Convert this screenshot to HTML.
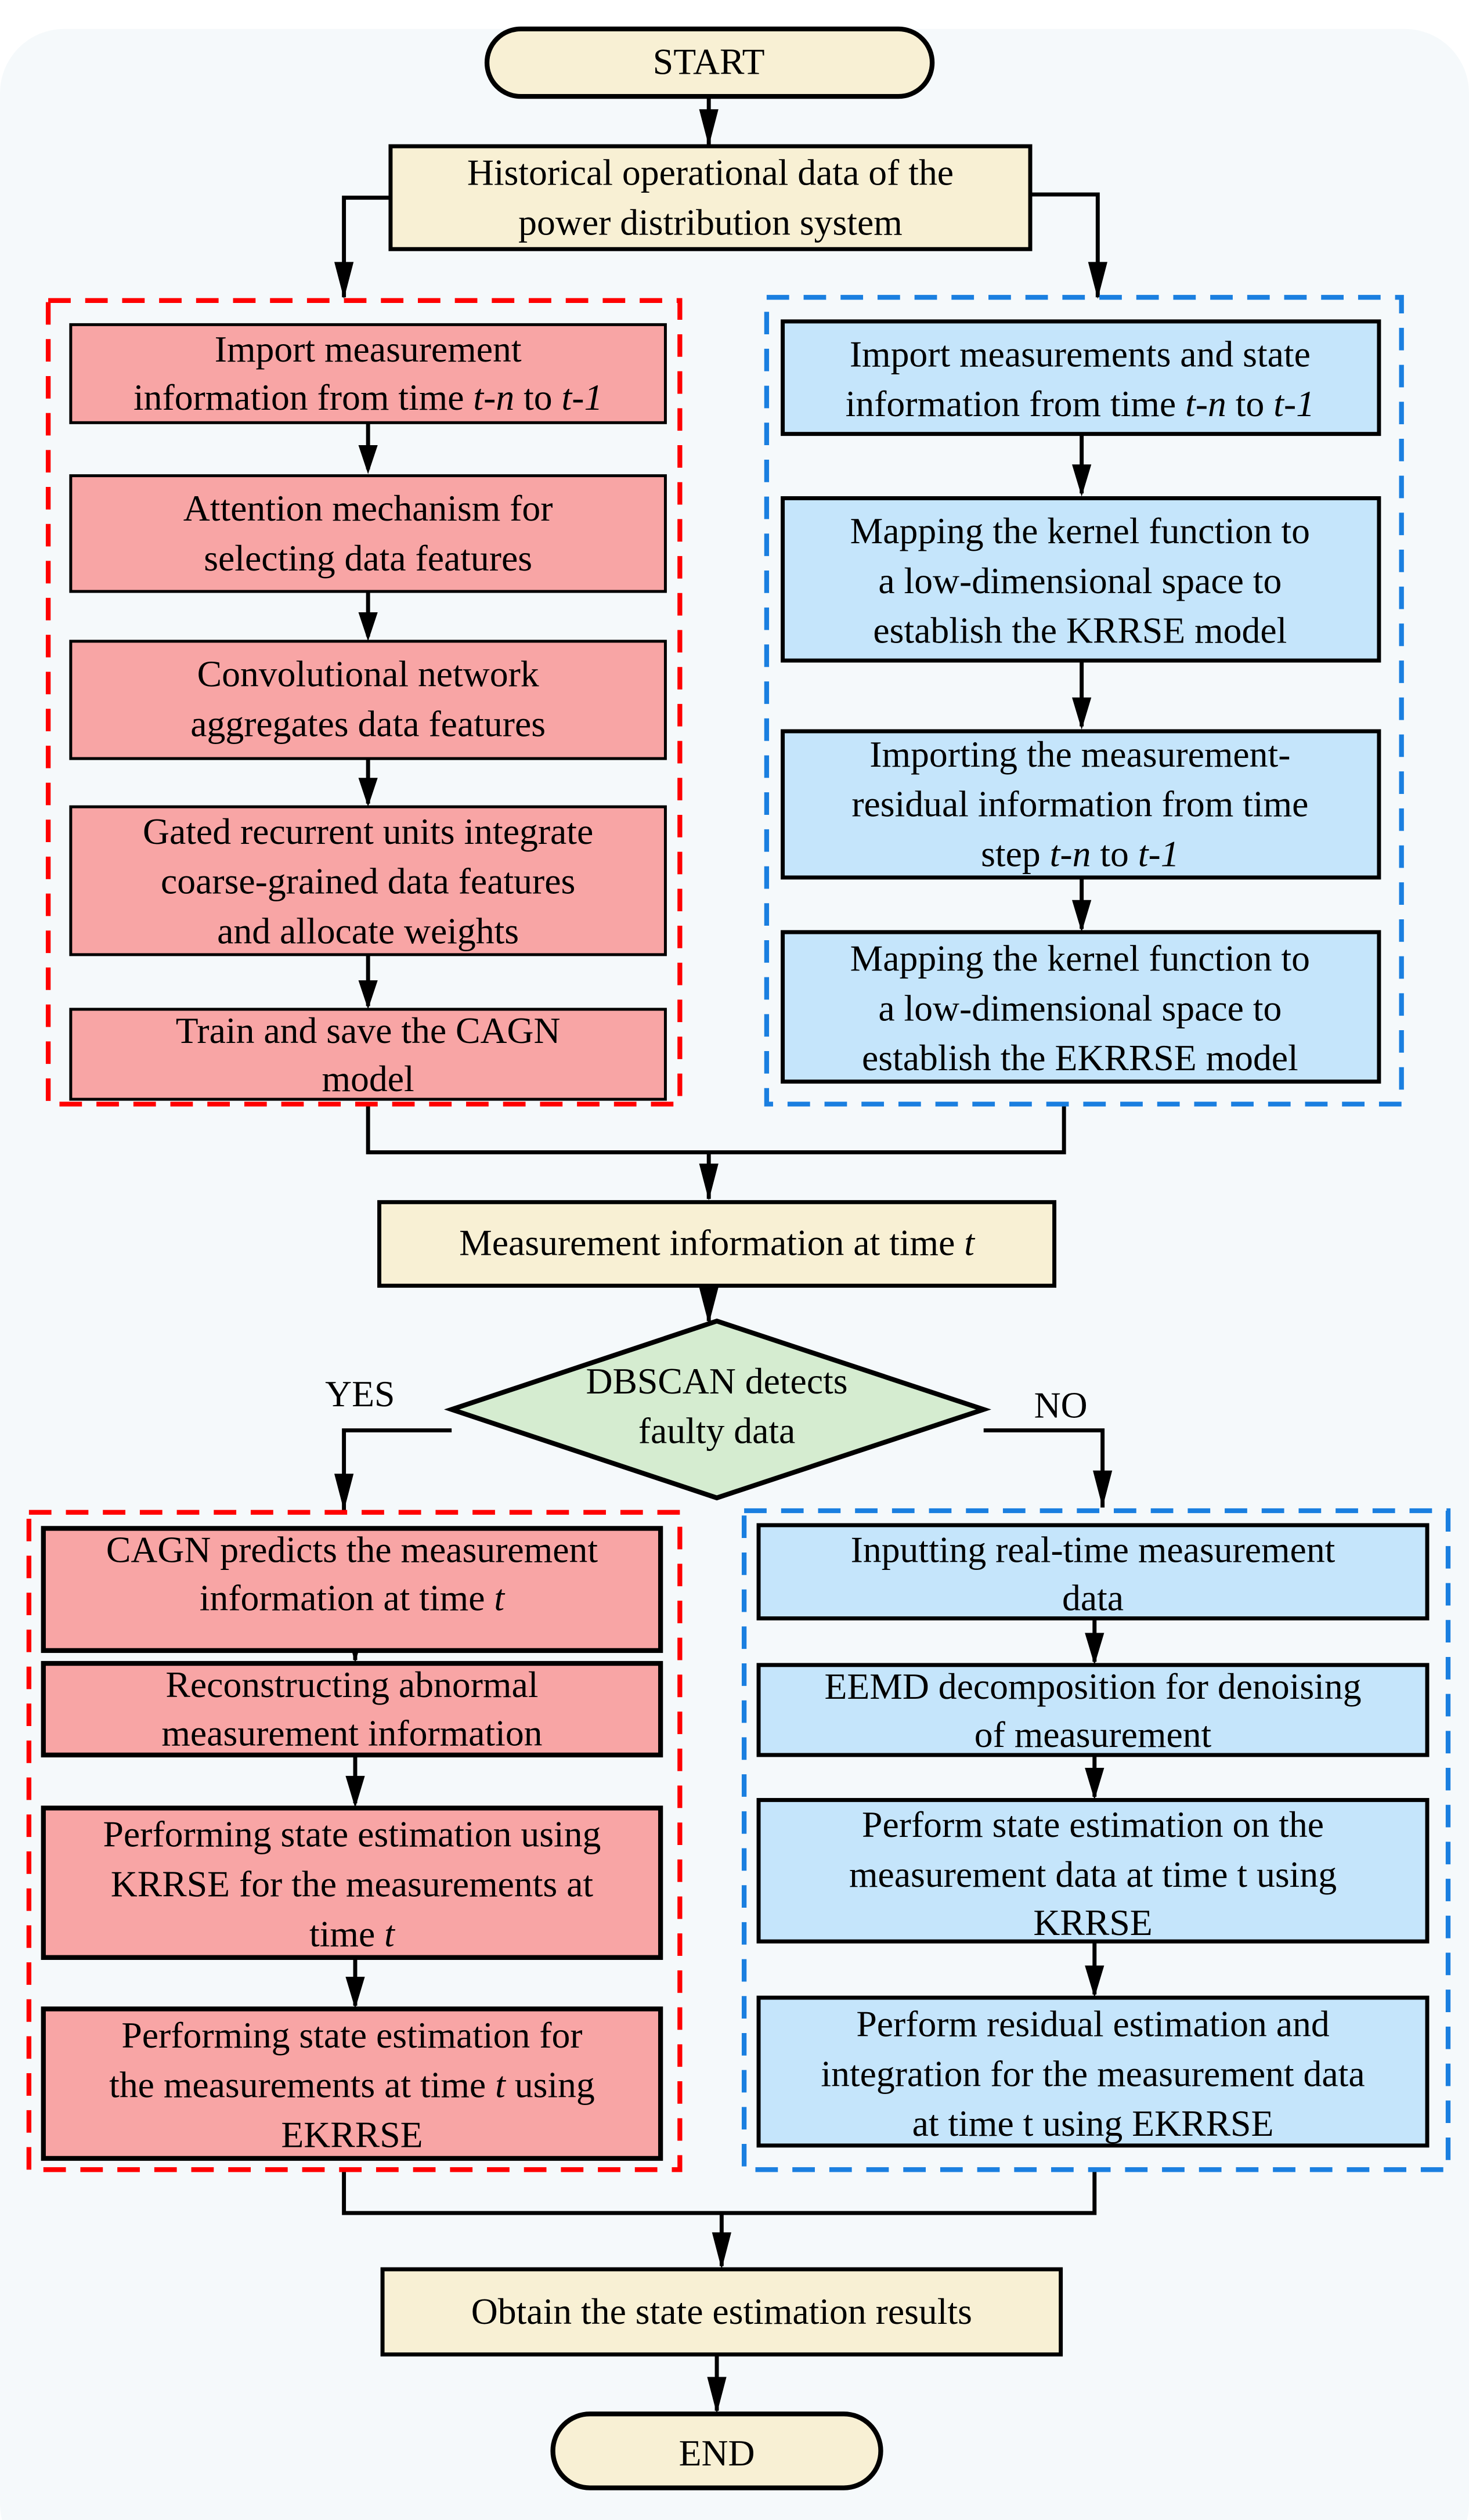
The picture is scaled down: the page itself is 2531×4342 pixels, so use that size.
<!DOCTYPE html>
<html><head><meta charset="utf-8"><style>html,body{margin:0;padding:0;background:#fff}svg{display:block}svg text{font-family:"Liberation Serif","Times New Roman",serif;font-size:23px}</style></head>
<body>
<svg width="2531" height="4342" viewBox="0 0 914 1568" xmlns="http://www.w3.org/2000/svg" style="font-family:'Liberation Serif',serif" text-anchor="middle">
<rect x="0" y="0" width="914" height="1568" fill="#ffffff"/>
<rect x="0" y="18" width="914" height="1580" rx="40" fill="#f5f9fb"/>
<g stroke="#000" stroke-width="2.5" fill="none">
<path d="M441 60 V90"/>
<path d="M243 123 H214 V185"/>
<path d="M641 121 H683 V185"/>
<path d="M229 687 V717 H662 V687"/>
<path d="M441 717 V746"/>
<path d="M441 800 V822"/>
<path d="M281 890 H214 V940"/>
<path d="M612 890 H686 V938"/>
<path d="M214 1350 V1377 H681 V1350"/>
<path d="M449 1377 V1410"/>
<path d="M446 1465 V1500"/>
<path d="M229 263 V292 M229 368 V396 M229 472 V500 M229 594 V626"/>
<path d="M673 270 V307 M673 411 V452 M673 546 V578"/>
<path d="M221 1027 V1033 M221 1092 V1122 M221 1218 V1248"/>
<path d="M681 1007 V1034 M681 1092 V1118 M681 1208 V1241"/>
</g>
<g fill="#000">
<path d="M435 68 L447 68 L441 91 z"/>
<path d="M208 163 L220 163 L214 186 z"/>
<path d="M677 163 L689 163 L683 186 z"/>
<path d="M435 724 L447 724 L441 747 z"/>
<path d="M435 801 L447 801 L441 824 z"/>
<path d="M208 917 L220 917 L214 940 z"/>
<path d="M680 915 L692 915 L686 938 z"/>
<path d="M443 1389 L455 1389 L449 1412 z"/>
<path d="M440 1479 L452 1479 L446 1502 z"/>
<path d="M223 277 L235 277 L229 295 z M223 381 L235 381 L229 399 z M223 484 L235 484 L229 502 z M223 610 L235 610 L229 628 z"/>
<path d="M667 289 L679 289 L673 309 z M667 434 L679 434 L673 454 z M667 560 L679 560 L673 580 z"/>
<path d="M215 1013 L227 1013 L221 1035 z M215 1105 L227 1105 L221 1125 z M215 1230 L227 1230 L221 1250 z"/>
<path d="M675 1016 L687 1016 L681 1036 z M675 1100 L687 1100 L681 1120 z M675 1223 L687 1223 L681 1243 z"/>
</g>
<g fill="none" stroke-width="3" stroke-dasharray="14 9">
<rect x="30" y="187" width="393" height="500" stroke="#f00"/>
<rect x="477" y="185" width="395" height="502" stroke="#1a7fe0"/>
<rect x="18" y="941" width="405" height="409" stroke="#f00"/>
<rect x="463" y="940" width="438" height="410" stroke="#1a7fe0"/>
</g>
<g stroke="#000">
<rect x="303" y="18" width="277" height="42" rx="21" fill="#f8f0d4" stroke-width="3"/>
<rect x="243" y="91" width="398" height="64" fill="#f8f0d4" stroke-width="2.5"/>
<g fill="#f8a5a5" stroke-width="1.8">
<rect x="44" y="202" width="370" height="61"/>
<rect x="44" y="296" width="370" height="72"/>
<rect x="44" y="399" width="370" height="73"/>
<rect x="44" y="502" width="370" height="92"/>
<rect x="44" y="628" width="370" height="56"/>
</g>
<g fill="#c5e5fb" stroke-width="2.5">
<rect x="487" y="200" width="371" height="70"/>
<rect x="487" y="310" width="371" height="101"/>
<rect x="487" y="455" width="371" height="91"/>
<rect x="487" y="580" width="371" height="93"/>
</g>
<rect x="236" y="748" width="420" height="52" fill="#f8f0d4" stroke-width="2.5"/>
<path d="M446 822 L612 877 L446 932 L281 877 z" fill="#d5ecd0" stroke-width="3"/>
<g fill="#f8a5a5" stroke-width="3">
<rect x="27" y="951" width="384" height="76"/>
<rect x="27" y="1035" width="384" height="57"/>
<rect x="27" y="1125" width="384" height="93"/>
<rect x="27" y="1250" width="384" height="93"/>
</g>
<g fill="#c5e5fb" stroke-width="2.5">
<rect x="472" y="949" width="416" height="58"/>
<rect x="472" y="1036" width="416" height="56"/>
<rect x="472" y="1120" width="416" height="88"/>
<rect x="472" y="1243" width="416" height="92"/>
</g>
<rect x="238" y="1412" width="422" height="53" fill="#f8f0d4" stroke-width="2.5"/>
<rect x="344" y="1502" width="204" height="46" rx="23" fill="#f8f0d4" stroke-width="3"/>
</g>
<g fill="#000">
<text x="441" y="46">START</text>
<text x="442" y="115">Historical operational data of the</text>
<text x="442" y="146">power distribution system</text>
<text x="229" y="225">Import measurement</text>
<text x="229" y="255">information from time <tspan font-style="italic">t-n</tspan> to <tspan font-style="italic">t-1</tspan></text>
<text x="229" y="324">Attention mechanism for</text>
<text x="229" y="355">selecting data features</text>
<text x="229" y="427">Convolutional network</text>
<text x="229" y="458">aggregates data features</text>
<text x="229" y="525">Gated recurrent units integrate</text>
<text x="229" y="556">coarse-grained data features</text>
<text x="229" y="587">and allocate weights</text>
<text x="229" y="649">Train and save the CAGN</text>
<text x="229" y="679">model</text>
<text x="672" y="228">Import measurements and state</text>
<text x="672" y="259">information from time <tspan font-style="italic">t-n</tspan> to <tspan font-style="italic">t-1</tspan></text>
<text x="672" y="338">Mapping the kernel function to</text>
<text x="672" y="369">a low-dimensional space to</text>
<text x="672" y="400">establish the KRRSE model</text>
<text x="672" y="477">Importing the measurement-</text>
<text x="672" y="508">residual information from time</text>
<text x="672" y="539">step <tspan font-style="italic">t-n</tspan> to <tspan font-style="italic">t-1</tspan></text>
<text x="672" y="604">Mapping the kernel function to</text>
<text x="672" y="635">a low-dimensional space to</text>
<text x="672" y="666">establish the EKRRSE model</text>
<text x="446" y="781">Measurement information at time <tspan font-style="italic">t</tspan></text>
<text x="446" y="867">DBSCAN detects</text>
<text x="446" y="898">faulty data</text>
<text x="224" y="875">YES</text>
<text x="660" y="882">NO</text>
<text x="219" y="972">CAGN predicts the measurement</text>
<text x="219" y="1002">information at time <tspan font-style="italic">t</tspan></text>
<text x="219" y="1056">Reconstructing abnormal</text>
<text x="219" y="1086">measurement information</text>
<text x="219" y="1149">Performing state estimation using</text>
<text x="219" y="1180">KRRSE for the measurements at</text>
<text x="219" y="1211">time <tspan font-style="italic">t</tspan></text>
<text x="219" y="1274">Performing state estimation for</text>
<text x="219" y="1305">the measurements at time <tspan font-style="italic">t</tspan> using</text>
<text x="219" y="1336">EKRRSE</text>
<text x="680" y="972">Inputting real-time measurement</text>
<text x="680" y="1002">data</text>
<text x="680" y="1057">EEMD decomposition for denoising</text>
<text x="680" y="1087">of measurement</text>
<text x="680" y="1143">Perform state estimation on the</text>
<text x="680" y="1174">measurement data at time t using</text>
<text x="680" y="1204">KRRSE</text>
<text x="680" y="1267">Perform residual estimation and</text>
<text x="680" y="1298">integration for the measurement data</text>
<text x="680" y="1329">at time t using EKRRSE</text>
<text x="449" y="1446">Obtain the state estimation results</text>
<text x="446" y="1534">END</text>
</g>
</svg>
</body></html>
